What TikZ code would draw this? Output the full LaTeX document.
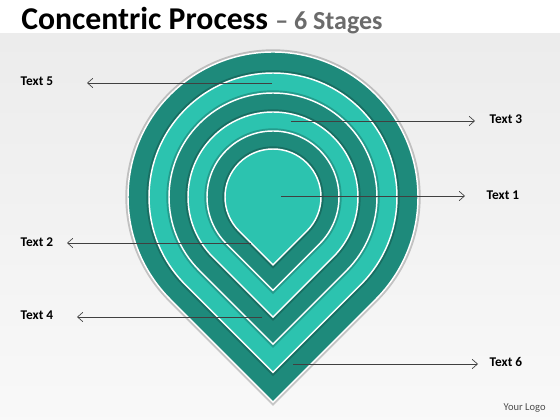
\documentclass[tikz,border=0pt]{standalone}
\usepackage{fontspec}
\setmainfont{Carlito}
\usetikzlibrary{arrows.meta}
\definecolor{tealdark}{HTML}{1E8A7B}
\definecolor{teallight}{HTML}{2CC3AF}
\definecolor{titlegray}{HTML}{6B6B6B}
\tikzset{
    ring/.style={draw=white, line width=1.1, preaction={draw=black, opacity=.2, line width=4}},
    pointer/.style={draw=black!75, line width=0.5pt, -{Straight Barb[length=4pt,width=7pt]}},
    label/.style={anchor=west, font=\fontsize{10}{11}\selectfont\bfseries}
}
% teardrop of radius #1 round the common centre
\newcommand{\teardrop}[2]{\filldraw[ring, fill=#2] (273,223) ++(-45:#1) arc[start angle=-45, end angle=225, radius=#1] -- (273,{223-1.4142*#1}) -- cycle;}

\begin{document}
\begin{tikzpicture}[x=0.75pt, y=0.75pt]
    \useasboundingbox (0,0) rectangle (560,420);
    \shade[top color=gray!15, bottom color=gray!5] (0,0) rectangle (560,387);
    \fill[white] (0,387) rectangle (560,420);
    \node[anchor=base west, inner sep=0pt] (title) at (21,390) {\fontsize{23.8}{26}\selectfont\bfseries Concentric Process \textcolor{titlegray}{\fontsize{19.5}{21}\selectfont -- 6 Stages}};

    \teardrop{145}{tealdark}
    \teardrop{124}{teallight}
    \teardrop{104}{tealdark}
    \teardrop{85}{teallight}
    \teardrop{66}{tealdark}
    \teardrop{48}{teallight}

    \coordinate (s1) at (281,224); \coordinate (e1) at (465,224);
    \coordinate (s2) at (251,177); \coordinate (e2) at (67,177);
    \coordinate (s3) at (291,299); \coordinate (e3) at (475,299);
    \coordinate (s4) at (262,103); \coordinate (e4) at (77,103);
    \coordinate (s5) at (272,337); \coordinate (e5) at (87,337);
    \coordinate (s6) at (293,56);  \coordinate (e6) at (478,56);

    \node[label] (t1) at (482,225) {Text 1};
    \node[label] (t2) at (16,178) {Text 2};
    \node[label] (t3) at (485,301) {Text 3};
    \node[label] (t4) at (16,105) {Text 4};
    \node[label] (t5) at (16,339) {Text 5};
    \node[label] (t6) at (485,58) {Text 6};

    \draw[pointer] (s1) -- (e1);
    \draw[pointer] (s2) -- (e2);
    \draw[pointer] (s3) -- (e3);
    \draw[pointer] (s4) -- (e4);
    \draw[pointer] (s5) -- (e5);
    \draw[pointer] (s6) -- (e6);

    \node[anchor=west, text=black!70, font=\fontsize{7.9}{9}\selectfont] (logo) at (499,12) {Your Logo};
    %\node at (273,223) {centre};
\end{tikzpicture}
\end{document}
